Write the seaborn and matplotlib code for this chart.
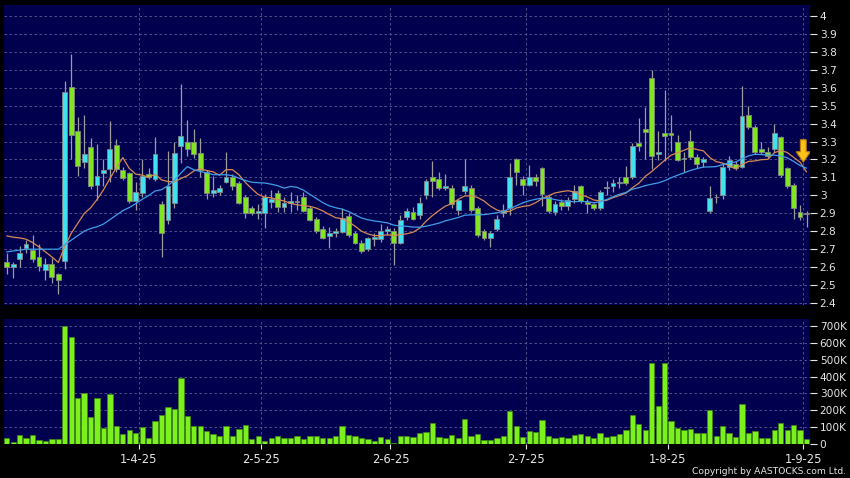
import numpy as np
import pandas as pd
import matplotlib
matplotlib.use("Agg")
import matplotlib.pyplot as plt
import seaborn as sns
from matplotlib.patches import Polygon

# -------------------------------------------------------
# Daily candles (3-3-25 .. 1-9-25)
# -------------------------------------------------------
opens = [2.63, 2.60, 2.645, 2.707, 2.696, 2.657, 2.583, 2.62, 2.559, 2.635,
         3.602, 3.361, 3.185, 3.272, 3.059, 3.124, 3.148, 3.283, 3.144, 3.122,
         2.969, 3.012, 3.12, 3.09, 2.95, 2.863, 2.96, 3.277, 3.30, 3.30,
         3.238, 3.13, 3.013, 3.02, 3.076, 3.101, 3.067, 2.989, 2.928, 2.90,
         2.90, 2.965, 3.012, 2.937, 2.955, 2.965, 2.99, 2.93, 2.867, 2.81,
         2.773, 2.788, 2.798, 2.887, 2.788, 2.736, 2.70, 2.755, 2.755, 2.80,
         2.80, 2.736, 2.878, 2.91, 2.89, 3.00, 3.10, 3.09, 3.04, 3.04,
         2.92, 3.026, 3.04, 2.927, 2.80, 2.76, 2.81, 2.90, 2.93, 3.20,
         3.09, 3.06, 3.10, 3.15, 2.99, 2.91, 2.965, 2.94, 2.978, 3.05,
         2.965, 2.95, 2.93, 3.04, 3.05, 3.068, 3.10, 3.10, 3.29, 3.368,
         3.656, 3.231, 3.347, 3.347, 3.297, 3.20, 3.303, 3.214, 3.188, 2.913,
         2.99, 3.002, 3.156, 3.175, 3.156, 3.45, 3.38, 3.257, 3.244, 3.257,
         3.327, 3.15, 3.058, 2.91, 2.90]
highs = [2.68, 2.63, 2.72, 2.75, 2.78, 2.73, 2.65, 2.65, 2.57, 3.635,
         3.79, 3.435, 3.448, 3.319, 3.287, 3.204, 3.417, 3.315, 3.157, 3.13,
         3.074, 3.20, 3.15, 3.327, 2.97, 3.25, 3.30, 3.62, 3.42, 3.37,
         3.32, 3.14, 3.11, 3.06, 3.24, 3.12, 3.08, 3.00, 2.94, 2.95,
         3.01, 3.03, 3.03, 2.99, 3.02, 3.00, 3.02, 2.94, 2.88, 2.83,
         2.825, 2.82, 2.93, 2.90, 2.80, 2.75, 2.77, 2.79, 2.84, 2.83,
         2.82, 2.89, 2.93, 2.935, 2.99, 3.09, 3.19, 3.13, 3.12, 3.06,
         2.98, 3.20, 3.06, 2.94, 2.81, 2.80, 2.89, 2.95, 3.18, 3.21,
         3.11, 3.17, 3.12, 3.16, 3.00, 2.97, 2.98, 2.99, 3.06, 3.06,
         2.98, 2.96, 3.03, 3.08, 3.09, 3.10, 3.165, 3.29, 3.43, 3.49,
         3.697, 3.36, 3.59, 3.446, 3.335, 3.24, 3.365, 3.23, 3.215, 3.05,
         3.01, 3.18, 3.22, 3.19, 3.61, 3.50, 3.39, 3.295, 3.27, 3.40,
         3.33, 3.16, 3.07, 2.947, 2.915]
lows = [2.56, 2.54, 2.60, 2.68, 2.63, 2.58, 2.53, 2.51, 2.45, 2.59,
        3.20, 3.11, 3.152, 3.037, 2.972, 3.055, 3.074, 3.133, 3.083, 2.96,
        2.917, 2.99, 3.09, 3.08, 2.658, 2.84, 2.93, 3.18, 3.22, 3.21,
        3.10, 2.98, 2.99, 3.00, 3.07, 3.03, 2.95, 2.875, 2.89, 2.87,
        2.82, 2.93, 2.91, 2.91, 2.91, 2.92, 2.91, 2.855, 2.79, 2.755,
        2.705, 2.77, 2.79, 2.77, 2.73, 2.68, 2.69, 2.72, 2.74, 2.78,
        2.61, 2.73, 2.86, 2.86, 2.87, 2.98, 2.99, 3.03, 3.03, 2.93,
        2.89, 3.01, 2.91, 2.766, 2.75, 2.71, 2.80, 2.88, 2.89, 3.06,
        3.00, 3.05, 3.05, 2.94, 2.90, 2.89, 2.92, 2.92, 2.96, 2.96,
        2.90, 2.92, 2.92, 3.00, 3.02, 3.04, 3.06, 3.09, 3.25, 3.20,
        3.149, 3.195, 3.19, 3.25, 3.19, 3.13, 3.20, 3.15, 3.16, 2.90,
        2.96, 2.98, 3.14, 3.14, 3.15, 3.37, 3.23, 3.23, 3.21, 3.24,
        3.10, 3.04, 2.867, 2.86, 2.826]
closes = [2.60, 2.615, 2.68, 2.728, 2.644, 2.607, 2.62, 2.546, 2.53, 3.574,
          3.337, 3.163, 3.233, 3.05, 3.107, 3.144, 3.256, 3.148, 3.096, 2.969,
          3.019, 3.108, 3.105, 3.23, 2.789, 3.052, 3.238, 3.331, 3.257, 3.23,
          3.14, 3.013, 3.03, 3.04, 3.101, 3.052, 2.959, 2.90, 2.90, 2.915,
          2.989, 2.978, 2.937, 2.955, 2.97, 2.97, 2.915, 2.862, 2.80, 2.76,
          2.788, 2.80, 2.875, 2.78, 2.736, 2.69, 2.76, 2.767, 2.80, 2.81,
          2.736, 2.862, 2.915, 2.87, 2.955, 3.08, 3.08, 3.04, 3.052, 2.95,
          2.974, 3.052, 2.92, 2.78, 2.76, 2.79, 2.87, 2.92, 3.10, 3.13,
          3.06, 3.10, 3.08, 3.01, 2.915, 2.95, 2.94, 2.975, 3.026, 2.97,
          2.95, 2.93, 3.02, 3.045, 3.067, 3.072, 3.067, 3.277, 3.277, 3.355,
          3.218, 3.244, 3.329, 3.335, 3.199, 3.21, 3.214, 3.177, 3.20, 2.983,
          2.992, 3.156, 3.197, 3.15, 3.443, 3.38, 3.244, 3.244, 3.22, 3.35,
          3.114, 3.05, 2.928, 2.878, 2.898]
volumes_k = [34, 14, 53, 38, 53, 26, 20, 28, 28, 702,
             637, 273, 303, 162, 273, 93, 297, 107, 59, 81,
             67, 103, 36, 138, 172, 221, 206, 393, 168, 109,
             105, 77, 59, 49, 109, 45, 87, 115, 32, 45,
             20, 34, 49, 36, 34, 47, 30, 47, 45, 34,
             38, 45, 109, 53, 47, 36, 30, 16, 42, 32,
             8, 47, 45, 43, 65, 73, 125, 43, 38, 53,
             38, 146, 49, 61, 26, 24, 34, 45, 196, 107,
             43, 77, 73, 140, 49, 38, 43, 34, 53, 57,
             49, 38, 67, 43, 47, 59, 81, 170, 121, 83,
             480, 225, 480, 138, 97, 85, 89, 67, 67, 202,
             49, 107, 65, 43, 237, 65, 79, 38, 38, 81,
             125, 85, 113, 85, 32]

# moving-average values before the window fills
ma10_lead = [2.774, 2.767, 2.763, 2.756, 2.737, 2.713, 2.685, 2.657, 2.626]
ma20_lead = [2.685, 2.69, 2.695, 2.70, 2.70, 2.70, 2.70, 2.70, 2.70, 2.725,
             2.75, 2.775, 2.80, 2.815, 2.825, 2.84, 2.865, 2.89, 2.915]

# first trading day of each month (candle index) and its label
month_first_idx = [21, 40, 60, 81, 103, 124]
month_labels = ["1-4-25", "2-5-25", "2-6-25", "2-7-25", "1-8-25", "1-9-25"]

price_ticks = [round(v / 10, 1) for v in range(24, 41)]
vol_ticks_k = [0, 100, 200, 300, 400, 500, 600, 700]

# -------------------------------------------------------
# Styling
# -------------------------------------------------------
BG = "#000000"
PANEL = "#00004f"
GRID = "#5b5b95"
UP = "#3fe3f0"
DOWN = "#80e61e"
TXT = "#e6e6e6"

sns.set_style("dark")
plt.rcParams["font.family"] = ["DejaVu Sans"]

df = pd.DataFrame({"open": opens, "high": highs, "low": lows,
                   "close": closes, "vol": volumes_k})
df["idx"] = np.arange(len(df))
ma10 = df["close"].rolling(10).mean()
ma10.iloc[:len(ma10_lead)] = ma10_lead
ma20 = df["close"].rolling(20).mean()
ma20.iloc[:len(ma20_lead)] = ma20_lead

W, H = 850, 478
fig = plt.figure(figsize=(W / 100, H / 100), dpi=100, facecolor=BG)
ax = fig.add_axes([4 / W, 1 - 305 / H, 806 / W, 300 / H])
axv = fig.add_axes([4 / W, 1 - 444 / H, 806 / W, 125 / H])

xlim = (-0.42, len(df) - 0.46)
month_pos = [m - 0.5 for m in month_first_idx]

# ---- price panel ----
ax.set_facecolor(PANEL)
up = df["close"] >= df["open"]
ax.vlines(df["idx"], df["low"], df["high"], color="#9c9c9c", lw=0.9, zorder=2)
body_lo = np.minimum(df["open"], df["close"])
body_h = (df["close"] - df["open"]).abs()
cols = np.where(body_h < 0.004, "#a0a0a0", np.where(up, UP, DOWN))
ax.bar(df["idx"], body_h, bottom=body_lo, width=0.75, color=cols,
       edgecolor="#858585", linewidth=0.6, zorder=3)
sns.lineplot(x=df["idx"], y=ma10.values, ax=ax, color="#d98a52", lw=0.9, zorder=4)
sns.lineplot(x=df["idx"], y=ma20.values, ax=ax, color="#3f9ee8", lw=0.9, zorder=4)

# yellow down arrow at the latest average
xt, yt = df["idx"].iloc[-1] - 0.5, ma10.iloc[-2]
arrow = Polygon([(xt - 0.45, yt + 0.125), (xt + 0.45, yt + 0.125),
                 (xt + 0.45, yt + 0.058), (xt + 1.1, yt + 0.058),
                 (xt, yt), (xt - 1.1, yt + 0.058), (xt - 0.45, yt + 0.058)],
                closed=True, facecolor="#f7c21c", edgecolor="#c27d00",
                lw=0.8, zorder=6)
ax.add_patch(arrow)

ax.set_xlim(*xlim)
ax.set_ylim(2.389, 4.061)
ax.set_yticks(price_ticks)
ax.set_yticklabels([f"{v:g}" for v in price_ticks])
ax.yaxis.tick_right()
ax.set_xticks([])
ax.grid(axis="y", color=GRID, linestyle=(0, (3, 3)), lw=0.6)
ax.grid(axis="x", visible=False)
for p in month_pos:
    ax.axvline(p, color=GRID, linestyle=(0, (3, 3)), lw=0.6, zorder=1)
ax.tick_params(axis="y", colors=TXT, labelsize=7.6, length=5, width=0.8,
               pad=2, right=True, left=False)
ax.set_xlabel("")
ax.set_ylabel("")
for s in ax.spines.values():
    s.set_visible(False)

# ---- volume panel ----
axv.set_facecolor(PANEL)
sns.barplot(x=df["idx"], y=df["vol"], ax=axv, native_scale=True, width=0.82,
            color="#7cf01c", saturation=1, edgecolor="#3f8a12",
            linewidth=0.5, errorbar=None, zorder=3)
axv.set_xlim(*xlim)
axv.set_ylim(0, 741)
axv.set_yticks(vol_ticks_k)
axv.set_yticklabels(["0" if v == 0 else f"{v}K" for v in vol_ticks_k])
axv.yaxis.tick_right()
axv.set_xticks(month_pos)
axv.set_xticklabels(month_labels)
axv.grid(axis="y", color=GRID, linestyle=(0, (3, 3)), lw=0.6)
axv.grid(axis="x", visible=False)
for p in month_pos:
    axv.axvline(p, color=GRID, linestyle=(0, (3, 3)), lw=0.6, zorder=1)
axv.tick_params(axis="y", colors=TXT, labelsize=7.6, length=5, width=0.8,
                pad=2, right=True, left=False)
axv.tick_params(axis="x", colors=TXT, labelsize=8.3, length=3.6, width=0.8,
                pad=3, bottom=True)
axv.set_xlabel("")
axv.set_ylabel("")
for s in axv.spines.values():
    s.set_visible(False)

fig.text(846 / W, 1 - 471.5 / H, "Copyright by AASTOCKS.com Ltd.",
         ha="right", va="center", fontsize=6.6, color=TXT)

fig.savefig("out.png", dpi=100, facecolor=BG)
